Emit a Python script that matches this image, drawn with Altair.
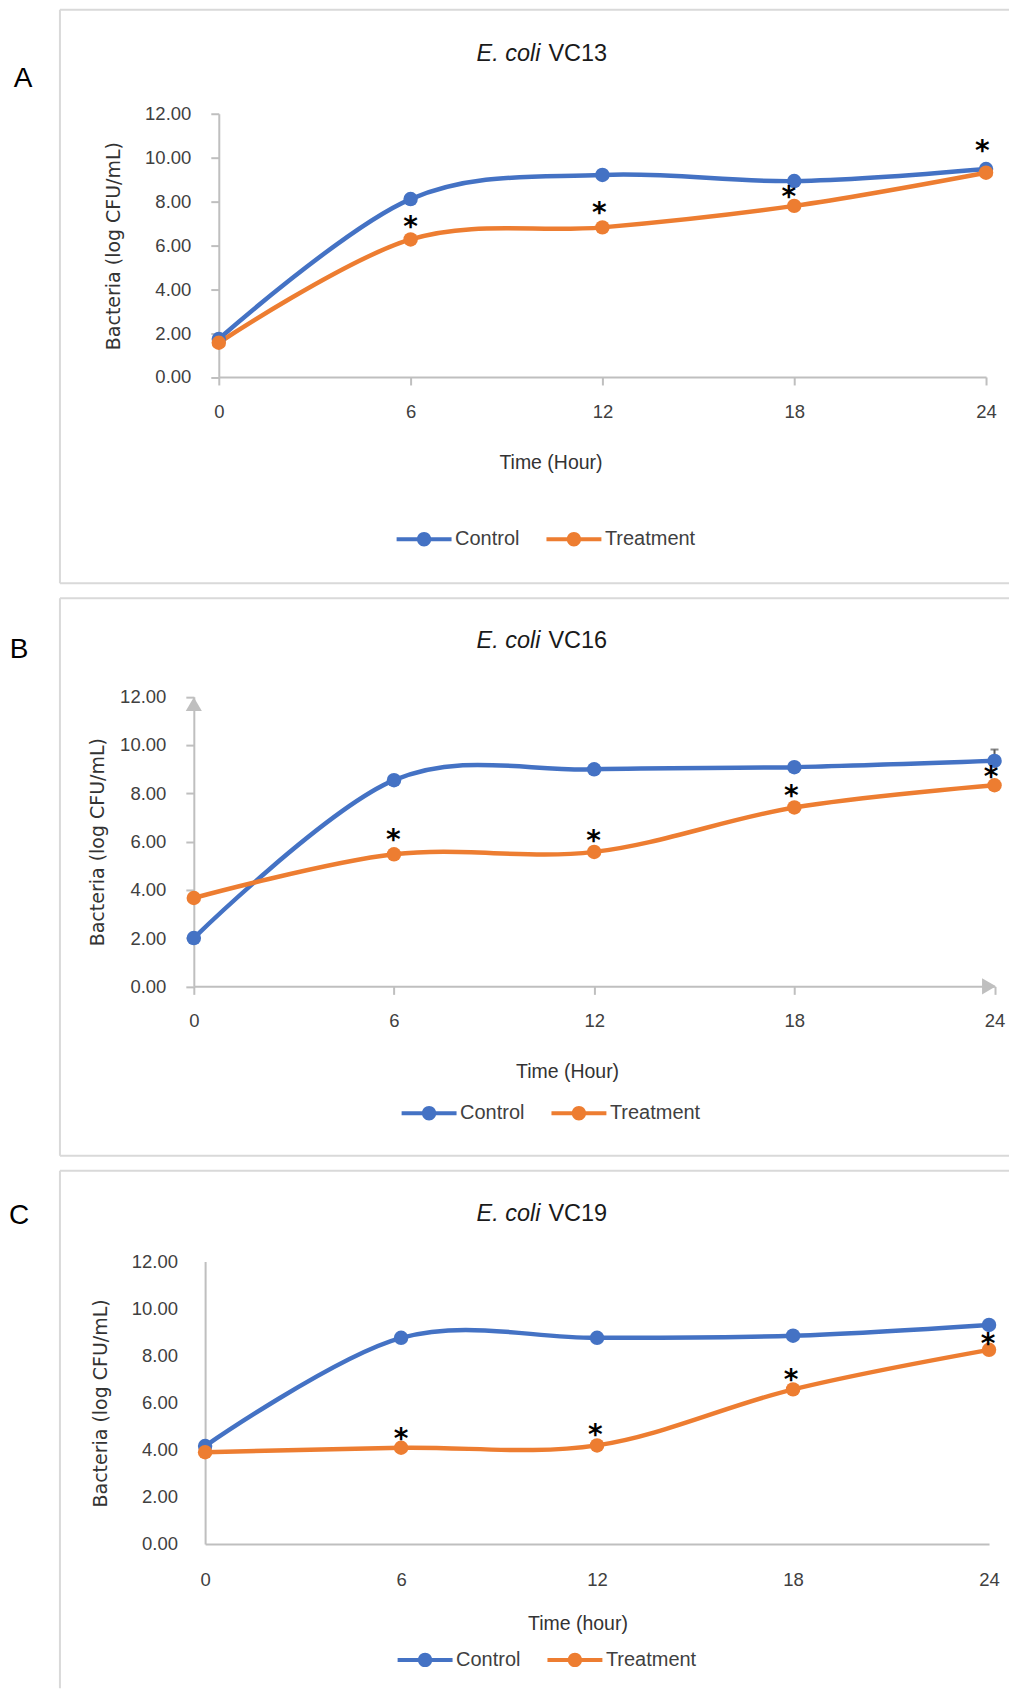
import altair as alt
import pandas as pd

# ---------------- data ----------------
times = [0, 6, 12, 18, 24]
groups = ["Control", "Treatment"]
species = "E. coli"
strains = ["VC13", "VC16", "VC19"]
letters = ["A", "B", "C"]
x_titles = ["Time (Hour)", "Time (Hour)", "Time (hour)"]
y_title = "Bacteria (log CFU/mL)"
x_ticks = [0, 6, 12, 18, 24]
y_ticks = [0, 2, 4, 6, 8, 10, 12]

a_control = [1.73, 8.11, 9.21, 8.93, 9.48]
a_treatment = [1.56, 6.27, 6.82, 7.80, 9.31]
b_control = [2.00, 8.54, 8.99, 9.08, 9.34]
b_treatment = [3.66, 5.47, 5.57, 7.41, 8.33]
c_control = [4.16, 8.76, 8.76, 8.85, 9.31]
c_treatment = [3.90, 4.09, 4.19, 6.57, 8.25]

# significance asterisks (time, value positions)
a_star_x = [6.0, 11.9, 17.83, 23.88]
a_star_y = [6.99, 7.63, 8.36, 10.42]
b_star_x = [5.98, 11.98, 17.91, 23.9]
b_star_y = [6.2, 6.16, 8.02, 8.78]
c_star_x = [6.0, 11.95, 17.94, 23.97]
c_star_y = [4.6, 4.75, 7.08, 8.64]

# error bar on panel B control at 24 h
b_err_time = [24]
b_err_low = [9.34]
b_err_high = [9.81]

# ---------------- styling ----------------
BLUE = "#4472C4"
ORANGE = "#ED7D31"
AXIS_GRAY = "#bfbfbf"
BORDER = "#d9d9d9"
FONT = "Liberation Sans"
PANEL_W = 950

LEGEND_PATH = ("M-2.75,-0.2L2.75,-0.2L2.75,0.2L-2.75,0.2Z "
               "M0.72,0A0.72,0.72 0 1,1 -0.72,0A0.72,0.72 0 1,1 0.72,0Z")

layouts = [
    dict(h=574, bottom=True, xr=[159, 927], yr=[367.5, 104], ticks=True,
         ylp=20, xlp=26.5, ytx=-105.3, yty=236, xtx=491, xty=85.5, ty=44.7,
         lx=-37, ly=69, legx=337, legy=520),
    dict(h=558, bottom=True, xr=[134, 935.5], yr=[388.5, 98.5], ticks=True,
         ylp=20, xlp=26.3, ytx=-96, yty=243.7, xtx=507.6, xty=85.1, ty=43,
         lx=-41, ly=52, legx=342, legy=505.5),
    dict(h=518, bottom=False, xr=[145.3, 930], yr=[373.7, 91], ticks=False,
         ylp=27.6, xlp=36, ytx=-104.6, yty=232.5, xtx=518, xty=79.3, ty=43,
         lx=-41, ly=45.5, legx=338, legy=479.7),
]


def make_panel(i, control, treatment, star_x, star_y, extra=None):
    L = layouts[i]
    df = pd.DataFrame({
        "time": times * 2,
        "value": control + treatment,
        "group": [groups[0]] * len(times) + [groups[1]] * len(times),
    })
    stars = pd.DataFrame({"time": star_x, "value": star_y})

    xs = alt.Scale(domain=[0, 24], range=L["xr"], nice=False, zero=False)
    ys = alt.Scale(domain=[0, 12], range=L["yr"], nice=False, zero=False)
    cs = alt.Scale(domain=groups, range=[BLUE, ORANGE])

    tsize = 8 if L["ticks"] else 0
    xaxis = alt.Axis(
        values=x_ticks, format="d", grid=False,
        offset=L["yr"][0] - L["h"],
        domainColor=AXIS_GRAY, domainWidth=2,
        ticks=L["ticks"], tickSize=tsize, tickColor=AXIS_GRAY, tickWidth=2,
        labelFont=FONT, labelFontSize=18.5, labelColor="#404040",
        labelBaseline="middle", labelPadding=L["xlp"], labelFlush=False,
        labelOverlap=False, labelBound=False,
        title=x_titles[i], titleX=L["xtx"], titleY=L["xty"], titleAngle=0,
        titleBaseline="middle", titleAlign="center", titleFont=FONT,
        titleFontSize=19.5, titleFontWeight="normal", titleColor="#333333",
    )
    yaxis = alt.Axis(
        values=y_ticks, format=".2f", grid=False,
        offset=-L["xr"][0],
        domainColor=AXIS_GRAY, domainWidth=2,
        ticks=L["ticks"], tickSize=tsize, tickColor=AXIS_GRAY, tickWidth=2,
        labelFont=FONT, labelFontSize=18.5, labelColor="#404040",
        labelPadding=L["ylp"], labelFlush=False, labelOverlap=False,
        labelBound=False,
        title=y_title, titleX=L["ytx"], titleY=L["yty"], titleAngle=-90,
        titleBaseline="middle", titleAlign="center", titleFont="DejaVu Sans",
        titleFontSize=19, titleFontWeight="normal", titleColor="#333333",
    )
    legend = alt.Legend(
        orient="none", legendX=L["legx"], legendY=L["legy"],
        direction="horizontal", title=None, padding=0,
        symbolType=LEGEND_PATH, symbolSize=400, symbolStrokeWidth=0,
        symbolOffset=17.5, labelOffset=21, columnPadding=27,
        labelFont=FONT, labelFontSize=20, labelColor="#404040",
        symbolOpacity=1,
    )

    X = lambda f="time:Q": alt.X(f, scale=xs, axis=xaxis)
    Y = lambda f="value:Q": alt.Y(f, scale=ys, axis=yaxis)

    base = alt.Chart(df)
    lines = base.mark_line(interpolate="cardinal", strokeWidth=4.5,
                           strokeCap="round").encode(
        x=X(), y=Y(),
        detail=alt.Detail("group:N"),
        stroke=alt.condition(alt.datum.group == groups[0],
                             alt.value(BLUE), alt.value(ORANGE)),
    )
    points = base.mark_point(filled=True, size=210, opacity=1).encode(
        x=X(), y=Y(),
        color=alt.Color("group:N", scale=cs, legend=legend),
    )
    star_layer = alt.Chart(stars).mark_text(
        text="*", font="DejaVu Sans", fontSize=28, fontWeight="bold",
        baseline="alphabetic", dy=12, color="#000000",
    ).encode(x=X(), y=Y())

    one = pd.DataFrame({"k": [0]})
    t1 = alt.Chart(one).mark_text(
        text=species, font=FONT, fontSize=23.5, fontStyle="italic",
        align="right", baseline="middle", color="#1a1a1a",
    ).encode(x=alt.value(481), y=alt.value(L["ty"]))
    t2 = alt.Chart(one).mark_text(
        text=strains[i], font=FONT, fontSize=23.5,
        align="left", baseline="middle", color="#1a1a1a",
    ).encode(x=alt.value(489), y=alt.value(L["ty"]))
    letter = alt.Chart(one).mark_text(
        text=letters[i], font=FONT, fontSize=28, align="center",
        baseline="middle", color="#000000",
    ).encode(x=alt.value(L["lx"]), y=alt.value(L["ly"]))

    # panel frame (top, left, and bottom where visible)
    top_b = alt.Chart(one).mark_rule(color=BORDER, strokeWidth=2).encode(
        x=alt.value(0), x2=alt.value(PANEL_W), y=alt.value(0))
    left_b = alt.Chart(one).mark_rule(color=BORDER, strokeWidth=2).encode(
        x=alt.value(0), y=alt.value(0), y2=alt.value(L["h"]))
    frame = [top_b, left_b]
    if L["bottom"]:
        frame.append(alt.Chart(one).mark_rule(color=BORDER, strokeWidth=2).encode(
            x=alt.value(0), x2=alt.value(PANEL_W), y=alt.value(L["h"])))

    layers = [lines] + frame
    if extra is not None:
        layers += extra(X, Y)
    layers += [points, star_layer, t1, t2, letter]
    return alt.layer(*layers).properties(width=PANEL_W, height=L["h"])


def b_extras(X, Y):
    arr_x = pd.DataFrame({"time": [24], "value": [0]})
    arr_y = pd.DataFrame({"time": [0], "value": [12]})
    ax = alt.Chart(arr_x).mark_point(
        shape="triangle-right", filled=True, size=260, opacity=1,
        color=AXIS_GRAY, xOffset=-5.5,
    ).encode(x=X(), y=Y())
    ay = alt.Chart(arr_y).mark_point(
        shape="triangle-up", filled=True, size=260, opacity=1,
        color=AXIS_GRAY, yOffset=7.5,
    ).encode(x=X(), y=Y())
    err = pd.DataFrame({"time": b_err_time, "value": b_err_low,
                        "high": b_err_high})
    rule = alt.Chart(err).mark_rule(color="#595959", strokeWidth=2).encode(
        x=X(), y=Y(), y2="high:Q",
    )
    cap = alt.Chart(err).mark_tick(
        orient="horizontal", color="#595959", size=8, thickness=2,
    ).encode(x=X(), y=Y("high:Q"))
    return [ax, ay, rule, cap]


pA = make_panel(0, a_control, a_treatment, a_star_x, a_star_y)
pB = make_panel(1, b_control, b_treatment, b_star_x, b_star_y, extra=b_extras)
pC = make_panel(2, c_control, c_treatment, c_star_x, c_star_y)

chart = (
    alt.vconcat(pA, pB, pC, spacing=13)
    .resolve_scale(x="independent", y="independent", color="independent")
    .resolve_legend(color="independent")
    .properties(padding={"left": 0, "top": 0, "right": 0, "bottom": 0},
                background="white")
    .configure_view(stroke=None)
)

chart.save("out.html", embed_options={"renderer": "svg", "actions": False})
